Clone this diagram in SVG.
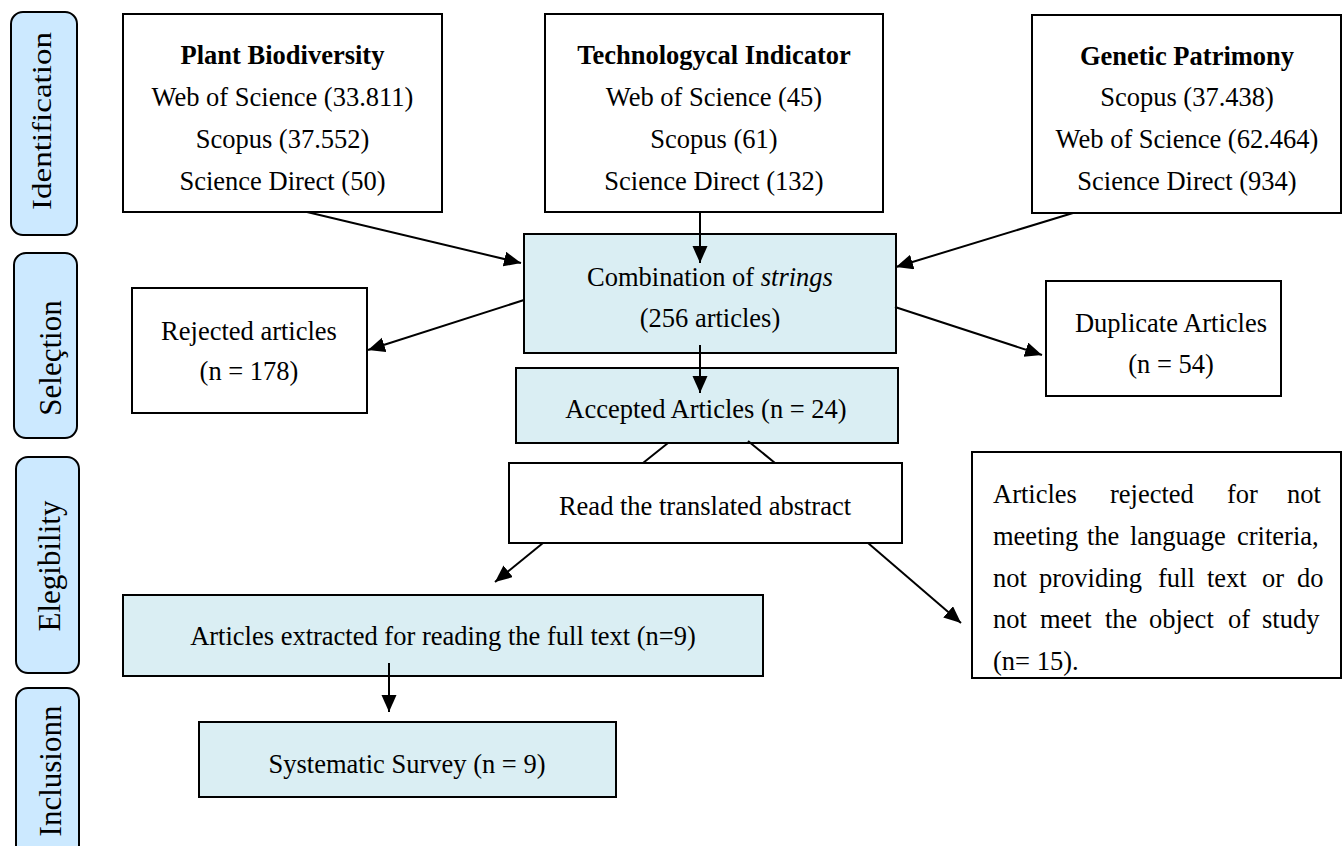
<svg xmlns="http://www.w3.org/2000/svg" width="1343" height="846" viewBox="0 0 1343 846">
<style>
text{font-family:"Liberation Serif","Times New Roman",serif;font-size:26.5px;fill:#000}
.c{text-anchor:middle}
.b{font-weight:bold}
.box{fill:#fff;stroke:#000;stroke-width:2}
.blue{fill:#DAEEF3;stroke:#000;stroke-width:2}
.tab{fill:#CCE9FF;stroke:#000;stroke-width:2}
.tt{font-size:31px;text-anchor:middle}
.ln{stroke:#000;stroke-width:2;fill:none}
.ar{stroke:#000;stroke-width:2;fill:none;marker-end:url(#ah)}
</style>
<defs>
<marker id="ah" markerUnits="userSpaceOnUse" markerWidth="18" markerHeight="16" refX="17" refY="7.5" orient="auto">
<path d="M0,0 L17,7.5 L0,15 z" fill="#000"/>
</marker>
</defs>
<rect width="1343" height="846" fill="#fff"/>
<g id="tab-identification">
<rect class="tab" x="11" y="12" width="66" height="223" rx="12"/>
<text class="tt" transform="translate(51,121) rotate(-90)" textLength="178" lengthAdjust="spacingAndGlyphs" style="font-size:27px">Identification</text>
</g>
<g id="tab-selection">
<rect class="tab" x="14" y="253" width="63" height="185" rx="12"/>
<text class="tt" transform="translate(61,358) rotate(-90)">Seleçtion</text>
</g>
<g id="tab-elegibility">
<rect class="tab" x="16" y="457" width="63" height="216" rx="12"/>
<text class="tt" transform="translate(60,566) rotate(-90)">Elegibility</text>
</g>
<g id="tab-inclusion">
<rect class="tab" x="16" y="688" width="63" height="170" rx="12"/>
<text class="tt" transform="translate(61,771) rotate(-90)">Inclusionn</text>
</g>
<g id="plant">
<rect class="box" x="123" y="14" width="319" height="198"/>
<text class="c b" x="282.5" y="64">Plant Biodiversity</text>
<text class="c" x="282.5" y="106">Web of Science (33.811)</text>
<text class="c" x="282.5" y="148">Scopus (37.552)</text>
<text class="c" x="282.5" y="190">Science Direct (50)</text>
</g>
<g id="tech">
<rect class="box" x="545" y="14" width="338" height="198"/>
<text class="c b" x="714" y="64">Technologycal Indicator</text>
<text class="c" x="714" y="106">Web of Science (45)</text>
<text class="c" x="714" y="148">Scopus (61)</text>
<text class="c" x="714" y="190">Science Direct (132)</text>
</g>
<g id="genetic">
<rect class="box" x="1032" y="15" width="309" height="198"/>
<text class="c b" x="1187" y="65">Genetic Patrimony</text>
<text class="c" x="1187" y="106">Scopus (37.438)</text>
<text class="c" x="1187" y="148">Web of Science (62.464)</text>
<text class="c" x="1187" y="190">Science Direct (934)</text>
</g>
<g id="combination">
<rect class="blue" x="524" y="234" width="372" height="119"/>
<text class="c" x="710" y="286">Combination of <tspan font-style="italic">strings</tspan></text>
<text class="c" x="710" y="327">(256 articles)</text>
</g>
<g id="rejected">
<rect class="box" x="132" y="288" width="235" height="125"/>
<text class="c" x="249" y="340">Rejected articles</text>
<text class="c" x="249" y="380">(n = 178)</text>
</g>
<g id="duplicate">
<rect class="box" x="1046" y="281" width="235" height="115"/>
<text class="c" x="1171" y="332">Duplicate Articles</text>
<text class="c" x="1171" y="373">(n = 54)</text>
</g>
<g id="accepted">
<rect class="blue" x="516" y="368" width="382" height="75"/>
<text class="c" x="706" y="418">Accepted Articles (n = 24)</text>
</g>
<g id="read">
<rect class="box" x="509" y="463" width="393" height="80"/>
<text class="c" x="705" y="515">Read the translated abstract</text>
</g>
<g id="lang-rejected">
<rect class="box" x="972" y="452" width="369" height="226"/>
<text y="503"><tspan x="993">Articles</tspan> <tspan x="1110">rejected</tspan> <tspan x="1227">for</tspan> <tspan x="1287">not</tspan></text>
<text y="545"><tspan x="993">meeting</tspan> <tspan x="1087">the</tspan> <tspan x="1130">language</tspan> <tspan x="1237">criteria,</tspan></text>
<text y="587"><tspan x="993">not</tspan> <tspan x="1039">providing</tspan> <tspan x="1158">full</tspan> <tspan x="1207">text</tspan> <tspan x="1262">or</tspan> <tspan x="1297">do</tspan></text>
<text y="628"><tspan x="993">not</tspan> <tspan x="1040">meet</tspan> <tspan x="1105">the</tspan> <tspan x="1149">object</tspan> <tspan x="1228">of</tspan> <tspan x="1262">study</tspan></text>
<text x="993" y="670">(n= 15).</text>
</g>
<g id="extracted">
<rect class="blue" x="123" y="595" width="640" height="81"/>
<text class="c" x="443" y="645">Articles extracted for reading the full text (n=9)</text>
</g>
<g id="systematic">
<rect class="blue" x="199" y="722" width="417" height="75"/>
<text class="c" x="407" y="773">Systematic Survey (n = 9)</text>
</g>
<g id="connectors">
<line class="ar" x1="307" y1="212" x2="521" y2="263"/>
<line class="ar" x1="700" y1="212" x2="700" y2="263"/>
<line class="ar" x1="1073" y1="213" x2="896" y2="267"/>
<line class="ar" x1="524" y1="300" x2="368" y2="350"/>
<line class="ar" x1="895" y1="307" x2="1042" y2="355"/>
<line class="ar" x1="700" y1="345" x2="700" y2="393"/>
<line class="ln" x1="668" y1="443" x2="643" y2="463"/>
<line class="ln" x1="748" y1="441" x2="775" y2="463"/>
<line class="ar" x1="543" y1="543" x2="495" y2="582"/>
<line class="ar" x1="868" y1="543" x2="961" y2="623"/>
<line class="ar" x1="389" y1="663" x2="389" y2="712"/>
</g>
</svg>
